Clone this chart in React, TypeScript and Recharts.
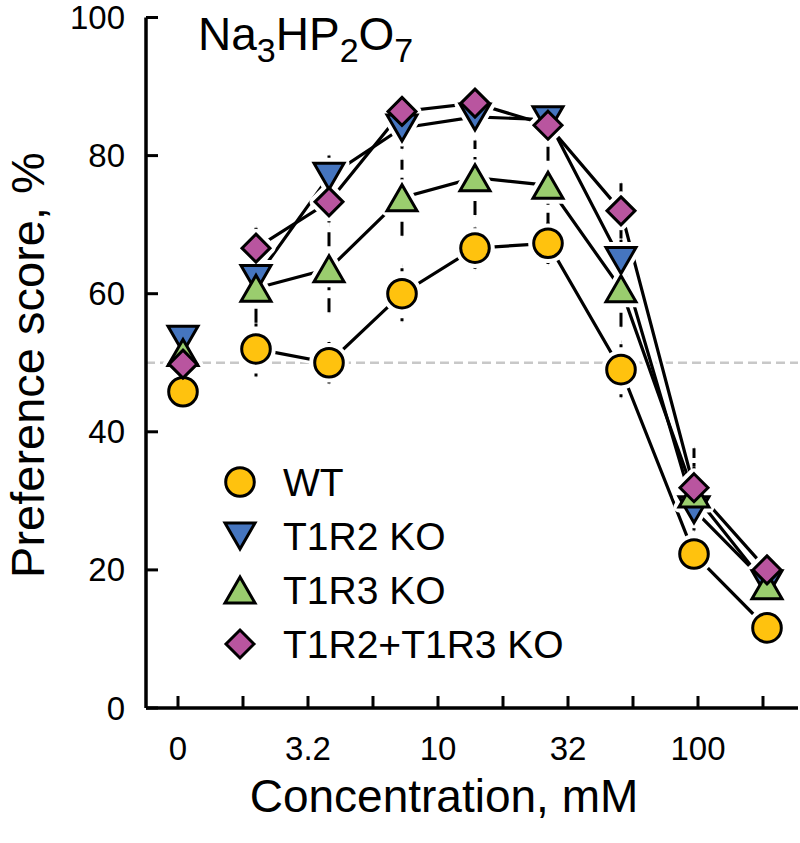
import React from 'react';
import {
  ComposedChart,
  Line,
  XAxis,
  YAxis,
  ReferenceLine,
  ErrorBar,
  Legend,
  Customized,
} from 'recharts';

// ---- data ----
const concentrationSteps = [0, 1, 2, 3, 4, 5, 6, 7, 8];
const wtValues = [45.8, 52.0, 50.0, 60.0, 66.6, 67.3, 49.0, 22.3, 11.6];
const t1r2Values = [53.4, 62.2, 77.0, 84.0, 85.6, 85.2, 64.8, 28.7, 18.0];
const t1r3Values = [51.5, 60.8, 63.6, 73.9, 76.8, 75.7, 60.7, 31.0, 17.7];
const bothValues = [49.8, 66.6, 73.3, 86.4, 87.6, 84.4, 72.0, 31.9, 20.0];

const wtErrors = [2, 4, 3, 4, 3, 3, 4, 2.5, 2];
const t1r2Errors = [2, 3, 3, 3, 2, 2, 3, 3, 2];
const t1r3Errors = [2, 5, 6.3, 5.5, 5.4, 6, 5.5, 4, 2];
const bothErrors = [2, 3, 3, 2.5, 2, 2.5, 4, 5.7, 2];

const xTickPositions = [-0.0685, 0.8219, 1.7123, 2.6027, 3.4932, 4.3836, 5.274, 6.1644, 7.0548, 7.9452];
const xTickLabels = ['0', '', '3.2', '', '10', '', '32', '', '100', ''];
const yTicks = [0, 20, 40, 60, 80, 100];
const xDomain = [-0.5068, 8.4247];

const seriesNames = ['WT', 'T1R2 KO', 'T1R3 KO', 'T1R2+T1R3 KO'];
const seriesKeys = ['wt', 't1r2', 't1r3', 'both'];
const seriesColors = ['#FFC20E', '#4575BF', '#9ACD6E', '#B9559F'];
const seriesShapes = ['circle', 'down', 'up', 'diamond'];
const seriesDashes = ['3 7', '10 6', '14 8', '10 5 3 5'];

const valueSets = [wtValues, t1r2Values, t1r3Values, bothValues];
const errorSets = [wtErrors, t1r2Errors, t1r3Errors, bothErrors];

const rows = concentrationSteps.map((x, i) => {
  const r: any = { x };
  seriesKeys.forEach((k, s) => {
    r[k] = valueSets[s][i];
    r[k + 'Line'] = i === 0 ? null : valueSets[s][i];
    r[k + 'Err'] = errorSets[s][i];
  });
  return r;
});

const FONT = '"Liberation Sans", Arial, Helvetica, sans-serif';

function MarkerShape({ shape, cx, cy, fill, halo }: any) {
  const stroke = halo ? '#ffffff' : '#000000';
  const sw = halo ? 11 : 3;
  const f = halo ? '#ffffff' : fill;
  const join = halo ? 'round' : 'miter';
  if (shape === 'circle') {
    return <circle cx={cx} cy={cy} r={14.3} fill={f} stroke={stroke} strokeWidth={sw} />;
  }
  let d = '';
  if (shape === 'down') d = `M${cx - 15},${cy - 13}L${cx + 15},${cy - 13}L${cx},${cy + 13}Z`;
  else if (shape === 'up') d = `M${cx},${cy - 13}L${cx + 15},${cy + 13}L${cx - 15},${cy + 13}Z`;
  else d = `M${cx},${cy - 14}L${cx + 14},${cy}L${cx},${cy + 14}L${cx - 14},${cy}Z`;
  return <path d={d} fill={f} stroke={stroke} strokeWidth={sw} strokeLinejoin={join as any} />;
}

const makeDot = (shape: string, fill: string, halo: boolean) => (props: any) => {
  const { cx, cy, index, value } = props;
  const key = `${shape}-${halo ? 'h' : 'm'}-${index}`;
  if (cx == null || cy == null || value == null) return <g key={key} />;
  return (
    <g key={key}>
      <MarkerShape shape={shape} cx={cx} cy={cy} fill={fill} halo={halo} />
    </g>
  );
};

const XTick = (props: any) => {
  const { x, y, index } = props;
  const label = xTickLabels[index] ?? '';
  return (
    <g>
      <line x1={x} x2={x} y1={y} y2={y - 12} stroke="#000" strokeWidth={3} />
      {label !== '' && (
        <text x={x} y={y + 52} textAnchor="middle" fontSize={33} fontFamily={FONT} fill="#000">
          {label}
        </text>
      )}
    </g>
  );
};

const YTick = (props: any) => {
  const { x, y, payload } = props;
  return (
    <g>
      <line x1={x} x2={x + 12} y1={y} y2={y} stroke="#000" strokeWidth={3} />
      <text x={x - 21} y={y} dy="0.35em" textAnchor="end" fontSize={33} fontFamily={FONT} fill="#000">
        {payload.value}
      </text>
    </g>
  );
};

const renderLegend = () => (
  <svg width={430} height={215} style={{ overflow: 'visible', display: 'block' }}>
    {seriesNames.map((name, i) => (
      <g key={name}>
        <MarkerShape shape={seriesShapes[i]} cx={18} cy={24 + i * 54} fill={seriesColors[i]} halo={false} />
        <text x={61} y={24 + i * 54} dy="0.35em" fontSize={39} fontFamily={FONT} fill="#000">
          {name}
        </text>
      </g>
    ))}
  </svg>
);

const Title = () => (
  <text x={198} y={50} fontSize={46} fontFamily={FONT} fill="#000">
    Na
    <tspan fontSize={34} dy={12}>3</tspan>
    <tspan fontSize={46} dy={-12}>HP</tspan>
    <tspan fontSize={34} dy={12}>2</tspan>
    <tspan fontSize={46} dy={-12}>O</tspan>
    <tspan fontSize={34} dy={12}>7</tspan>
  </text>
);

export default function App() {
  return (
    <div style={{ position: 'absolute', left: 0, top: 0, width: 800, height: 843, background: '#fff' }}>
      <ComposedChart
        width={800}
        height={843}
        data={rows}
        margin={{ top: 17.5, right: 2, bottom: 0, left: 0 }}
      >
        <XAxis
          dataKey="x"
          type="number"
          domain={xDomain}
          allowDataOverflow
          ticks={xTickPositions}
          interval={0}
          height={135}
          tickSize={0}
          tickMargin={0}
          tickLine={false}
          axisLine={{ stroke: '#000', strokeWidth: 3.5 }}
          tick={<XTick />}
          label={(p: any) => (
            <text x={444} y={812} textAnchor="middle" fontSize={46} fontFamily={FONT} fill="#000">
              Concentration, mM
            </text>
          )}
        />
        <YAxis
          type="number"
          domain={[0, 100]}
          ticks={yTicks}
          interval={0}
          width={146}
          tickSize={0}
          tickMargin={0}
          tickLine={false}
          axisLine={{ stroke: '#000', strokeWidth: 3.5 }}
          tick={<YTick />}
          label={(p: any) => (
            <text
              x={44}
              y={365}
              transform="rotate(-90, 44, 365)"
              textAnchor="middle"
              fontSize={47}
              fontFamily={FONT}
              fill="#000"
            >
              Preference score, %
            </text>
          )}
        />
        <ReferenceLine y={50} stroke="#c8c8c8" strokeWidth={2.5} strokeDasharray="9 5" ifOverflow="visible" />

        {seriesKeys.map((k) => (
          <Line
            key={k + '-halo-line'}
            dataKey={k + 'Line'}
            stroke="#ffffff"
            strokeWidth={9}
            dot={false}
            activeDot={false}
            legendType="none"
            connectNulls={false}
            isAnimationActive={false}
          />
        ))}
        {seriesKeys.map((k) => (
          <Line
            key={k + '-line'}
            dataKey={k + 'Line'}
            stroke="#000000"
            strokeWidth={3.2}
            dot={false}
            activeDot={false}
            legendType="none"
            connectNulls={false}
            isAnimationActive={false}
          />
        ))}
        {seriesKeys.map((k, s) => (
          <Line
            key={k + '-err'}
            dataKey={k}
            stroke="none"
            dot={false}
            activeDot={false}
            legendType="none"
            isAnimationActive={false}
          >
            <ErrorBar
              dataKey={k + 'Err'}
              direction="y"
              width={0}
              stroke="#000"
              strokeWidth={3}
              strokeDasharray={seriesDashes[s]}
            />
          </Line>
        ))}
        {seriesKeys.map((k, s) => (
          <Line
            key={k + '-halo-dot'}
            dataKey={k}
            stroke="none"
            dot={makeDot(seriesShapes[s], seriesColors[s], true)}
            activeDot={false}
            legendType="none"
            isAnimationActive={false}
          />
        ))}
        {seriesKeys.map((k, s) => (
          <Line
            key={k + '-dot'}
            dataKey={k}
            name={seriesNames[s]}
            stroke="none"
            dot={makeDot(seriesShapes[s], seriesColors[s], false)}
            activeDot={false}
            isAnimationActive={false}
          />
        ))}
        <Legend
          layout="vertical"
          align="center"
          verticalAlign="middle"
          content={renderLegend}
          wrapperStyle={{ left: 222, top: 458, width: 430, height: 215 }}
        />
        <Customized component={Title} />
      </ComposedChart>
    </div>
  );
}
